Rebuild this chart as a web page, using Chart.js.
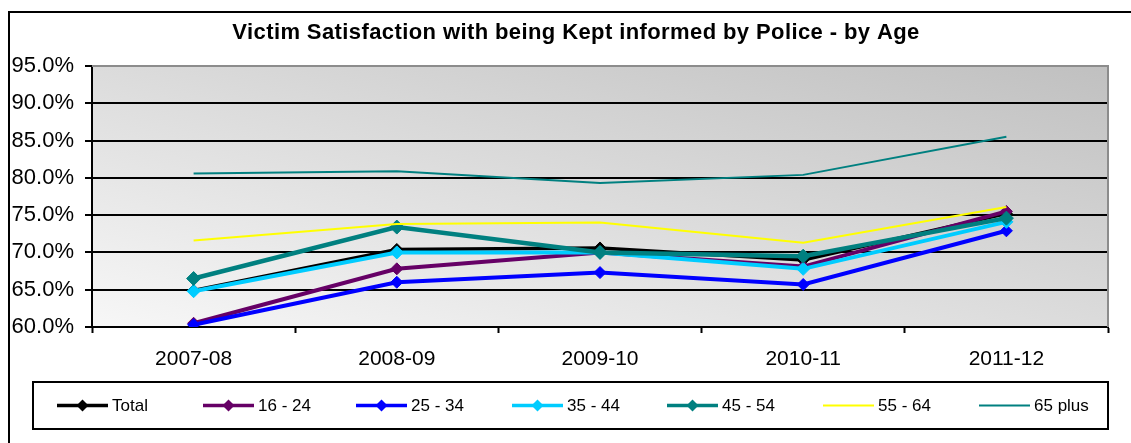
<!DOCTYPE html>
<html>
<head>
<meta charset="utf-8">
<title>Victim Satisfaction by Age</title>
<script src="https://cdn.jsdelivr.net/npm/chart.js@4"></script>
<style>
  html, body { margin: 0; padding: 0; background: #fff; }
  #wrap { width: 1131px; height: 443px; }
</style>
</head>
<body>
<div id="wrap"><canvas id="ageChart" width="1131" height="443"></canvas></div>
<script>
const years = ['2007-08', '2008-09', '2009-10', '2010-11', '2011-12'];

const total     = [64.9, 70.4, 70.6, 69.0, 75.2];
const age16_24  = [60.5, 67.8, 70.0, 68.1, 75.5];
const age25_34  = [60.3, 66.0, 67.3, 65.7, 72.9];
const age35_44  = [64.8, 70.0, 70.0, 67.8, 74.1];
const age45_54  = [66.5, 73.4, 70.0, 69.5, 74.6];
const age55_64  = [71.6, 73.8, 74.0, 71.3, 76.1];
const age65plus = [80.6, 80.9, 79.3, 80.4, 85.5];

const seriesNames = ['Total', '16 - 24', '25 - 34', '35 - 44', '45 - 54', '55 - 64', '65 plus'];

const yTicks = [60, 65, 70, 75, 80, 85, 90, 95];

const chartTitle = 'Victim Satisfaction with being Kept informed by Police - by Age';

const FONT = "'Liberation Sans', Arial, sans-serif";

function series(label, data, color, width, radius, order) {
    return {
        label: label,
        data: data,
        borderColor: color,
        backgroundColor: color,
        borderWidth: width,
        pointStyle: 'rectRot',
        pointRadius: radius,
        pointHoverRadius: radius,
        pointBorderWidth: 1,
        tension: 0,
        order: order
    };
}

// plot area fill, outer frame lines and the heading
const backdrop = {
    id: 'backdrop',
    beforeDraw(chart) {
        const { ctx, chartArea: a } = chart;
        const w = a.right - a.left;
        const h = a.bottom - a.top;
        const k = (2 * w * h) / (w * w + h * h);
        const g = ctx.createLinearGradient(a.left, a.bottom, a.left + k * h, a.bottom - k * w);
        g.addColorStop(0, '#f7f7f7');
        g.addColorStop(1, '#c0c0c0');
        ctx.save();
        ctx.fillStyle = g;
        ctx.fillRect(a.left, a.top, w, h);

        ctx.strokeStyle = '#000';
        ctx.lineWidth = 2;
        ctx.beginPath();
        ctx.moveTo(9, 443);
        ctx.lineTo(9, 12);
        ctx.lineTo(1131, 12);
        ctx.stroke();

        ctx.fillStyle = '#000';
        ctx.font = 'bold 22px ' + FONT;
        ctx.letterSpacing = '0.4px';
        ctx.textAlign = 'center';
        ctx.textBaseline = 'middle';
        ctx.fillText(chartTitle, 576, 33);
        ctx.restore();
    },
    beforeDatasetsDraw(chart) {
        const { ctx, chartArea: a } = chart;
        ctx.save();
        ctx.strokeStyle = '#8c8c8c';
        ctx.lineWidth = 2;
        ctx.beginPath();
        ctx.moveTo(a.left, a.top);
        ctx.lineTo(a.right, a.top);
        ctx.lineTo(a.right, a.bottom);
        ctx.stroke();
        ctx.restore();
    }
};

// boxed legend under the axis: line sample, diamond marker, name
const boxLegend = {
    id: 'boxLegend',
    afterDraw(chart) {
        const ctx = chart.ctx;
        const box = { x: 33, y: 382, w: 1075, h: 47 };
        const startX = [57, 203, 356, 512, 667, 823, 979];
        const midY = box.y + box.h / 2;
        ctx.save();
        ctx.strokeStyle = '#000';
        ctx.lineWidth = 2;
        ctx.strokeRect(box.x, box.y, box.w, box.h);

        chart.data.datasets.forEach((ds, i) => {
            const x0 = startX[i];
            const x1 = x0 + 51;
            ctx.strokeStyle = ds.borderColor;
            ctx.lineWidth = Math.min(ds.borderWidth, 3.5);
            ctx.beginPath();
            ctx.moveTo(x0, midY);
            ctx.lineTo(x1, midY);
            ctx.stroke();
            if (ds.pointRadius > 0) {
                const cx = (x0 + x1) / 2;
                const r = 6;
                ctx.fillStyle = ds.backgroundColor;
                ctx.beginPath();
                ctx.moveTo(cx, midY - r);
                ctx.lineTo(cx + r, midY);
                ctx.lineTo(cx, midY + r);
                ctx.lineTo(cx - r, midY);
                ctx.closePath();
                ctx.fill();
            }
            ctx.fillStyle = '#000';
            ctx.font = '17px ' + FONT;
            ctx.textBaseline = 'middle';
            ctx.textAlign = 'left';
            ctx.fillText(ds.label, x1 + 4, midY + 1);
        });
        ctx.restore();
    }
};

const ctx = document.getElementById('ageChart').getContext('2d');

const ageChart = new Chart(ctx, {
    type: 'line',
    data: {
        labels: years,
        datasets: [
            series(seriesNames[0], total, '#000000', 3.5, 6, 6),
            series(seriesNames[1], age16_24, '#660066', 4, 6, 5),
            series(seriesNames[2], age25_34, '#0000ff', 4, 6, 4),
            series(seriesNames[3], age35_44, '#00ccff', 4, 6.5, 3),
            series(seriesNames[4], age45_54, '#008080', 4.5, 7, 2),
            series(seriesNames[5], age55_64, '#ffff00', 2, 0, 1),
            series(seriesNames[6], age65plus, '#008080', 2, 0, 0)
        ]
    },
    options: {
        responsive: false,
        animation: false,
        events: [],
        layout: { padding: { left: 0, right: 23, top: 66, bottom: 0 } },
        plugins: {
            legend: { display: false },
            tooltip: { enabled: false },
            title: { display: false }
        },
        scales: {
            x: {
                offset: true,
                grid: {
                    offset: true,
                    drawOnChartArea: false,
                    drawTicks: true,
                    tickLength: 6,
                    tickWidth: 2,
                    tickColor: '#000'
                },
                border: { color: '#000', width: 2 },
                ticks: {
                    color: '#000',
                    padding: 14,
                    maxRotation: 0,
                    font: { family: FONT, size: 21 }
                },
                afterFit(scale) { scale.height = 116; }
            },
            y: {
                min: 60,
                max: 95,
                afterBuildTicks(scale) {
                    scale.ticks = yTicks.map(v => ({ value: v }));
                },
                grid: {
                    color: c => (c.tick && c.tick.value === 95) ? 'rgba(0,0,0,0)' : '#000',
                    lineWidth: 2,
                    tickLength: 7,
                    tickColor: '#000',
                    tickWidth: 2
                },
                border: { color: '#000', width: 2 },
                ticks: {
                    color: '#000',
                    padding: 11,
                    font: { family: FONT, size: 22 },
                    callback: v => v.toFixed(1) + '%'
                },
                afterFit(scale) { scale.width = 92; }
            }
        }
    },
    plugins: [backdrop, boxLegend]
});
</script>
</body>
</html>
